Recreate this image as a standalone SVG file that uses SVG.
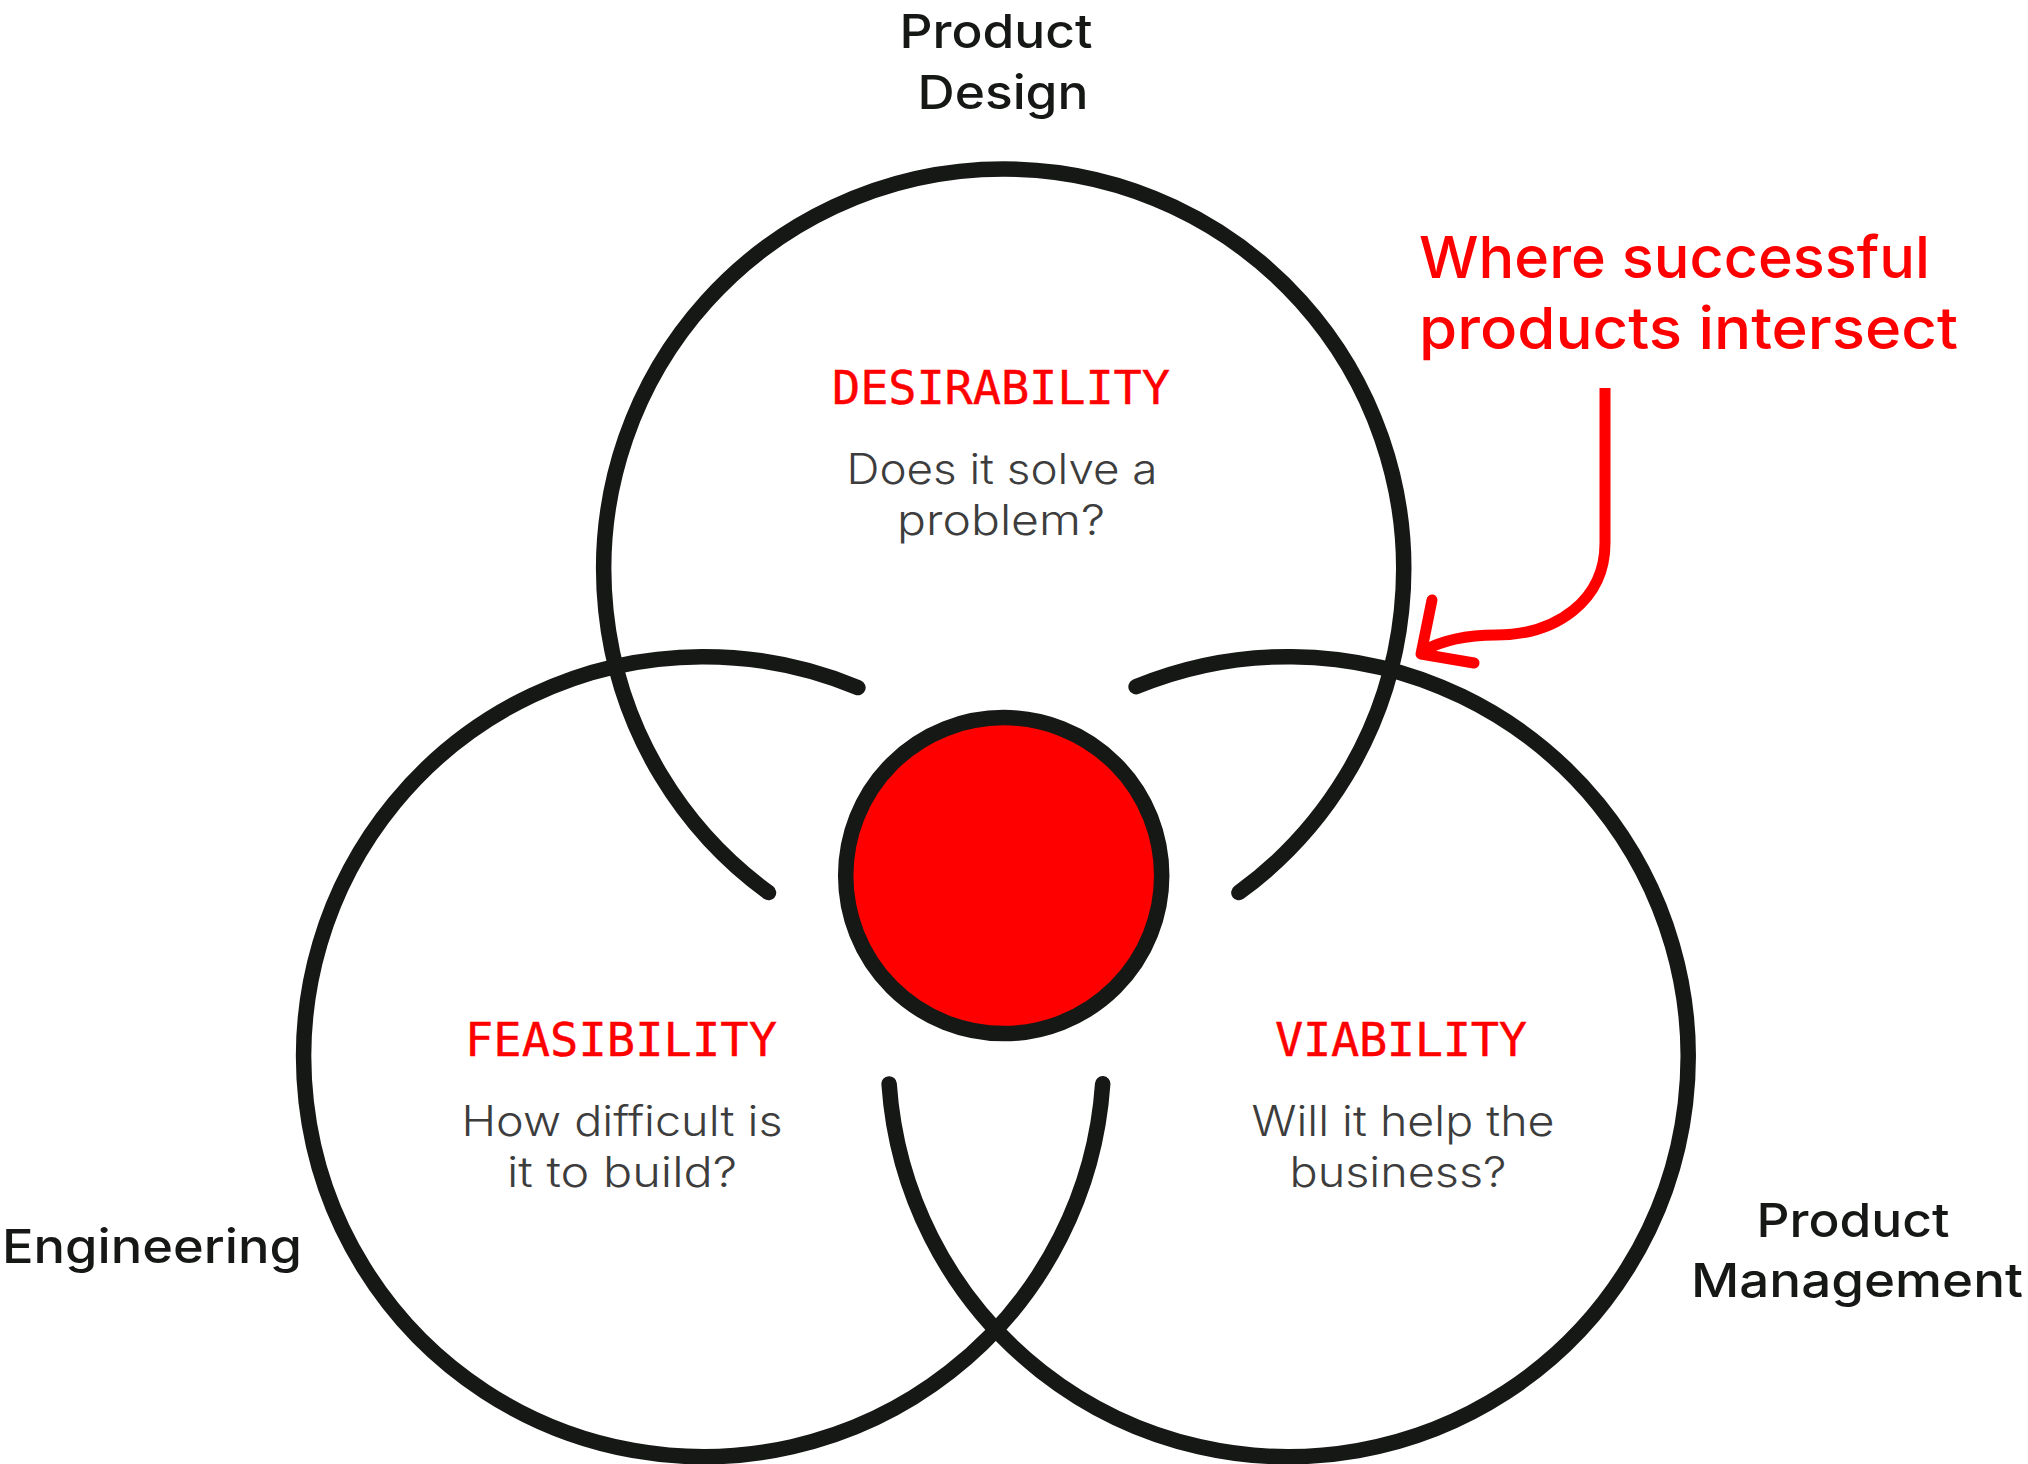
<svg xmlns="http://www.w3.org/2000/svg" width="2028" height="1464" viewBox="0 0 2028 1464">
  <style>
    .ring { fill: none; stroke: #161816; stroke-width: 15.5; stroke-linecap: round; }
    .group-label { font-family: Inter, "Liberation Sans", sans-serif; font-weight: 500; font-size: 47px; fill: #161816; text-anchor: middle; }
    .title { font-family: "DejaVu Sans Mono", "Liberation Mono", monospace; font-size: 47px; fill: #ff0000; stroke: #ff0000; stroke-width: 0.4; text-anchor: middle; }
    .question { font-family: Inter, "Liberation Sans", sans-serif; font-weight: 350; font-size: 42px; fill: #3d3d3d; text-anchor: middle; }
    .callout { font-family: Inter, "Liberation Sans", sans-serif; font-weight: 500; font-size: 58px; fill: #ff0000; }
    .arrow { fill: none; stroke: #ff0000; stroke-width: 11; }
  </style>
  <rect width="2028" height="1464" fill="#ffffff"/>

  <g id="desirability">
    <path class="ring" d="M768.5 892.6 A400 400 0 1 1 1238.9 892.6"/>
    <text class="group-label" x="996" y="48" textLength="193" lengthAdjust="spacingAndGlyphs">Product</text>
    <text class="group-label" x="1003" y="108.5" textLength="171" lengthAdjust="spacingAndGlyphs">Design</text>
    <text class="title" x="1001" y="403.5" textLength="338">DESIRABILITY</text>
    <text class="question" x="1002" y="483.5" textLength="311" lengthAdjust="spacingAndGlyphs">Does it solve a</text>
    <text class="question" x="1001" y="535" textLength="208" lengthAdjust="spacingAndGlyphs">problem?</text>
  </g>

  <g id="feasibility">
    <path class="ring" d="M857.9 687.6 A400 400 0 1 0 1102.7 1083.8"/>
    <text class="group-label" x="152" y="1263" textLength="300" lengthAdjust="spacingAndGlyphs">Engineering</text>
    <text class="title" x="621" y="1056" textLength="312">FEASIBILITY</text>
    <text class="question" x="622" y="1135.5" textLength="321" lengthAdjust="spacingAndGlyphs">How difficult is</text>
    <text class="question" x="622" y="1187" textLength="230" lengthAdjust="spacingAndGlyphs">it to build?</text>
  </g>

  <g id="viability">
    <path class="ring" d="M889.1 1083.9 A400 400 0 1 0 1136.1 686.7"/>
    <text class="group-label" x="1853" y="1236.5" textLength="193" lengthAdjust="spacingAndGlyphs">Product</text>
    <text class="group-label" x="1857" y="1297" textLength="332" lengthAdjust="spacingAndGlyphs">Management</text>
    <text class="title" x="1401" y="1055.5" textLength="252">VIABILITY</text>
    <text class="question" x="1403" y="1136" textLength="303" lengthAdjust="spacingAndGlyphs">Will it help the</text>
    <text class="question" x="1398" y="1187" textLength="217" lengthAdjust="spacingAndGlyphs">business?</text>
  </g>

  <g id="intersection">
    <circle cx="1003.7" cy="875.6" r="158" fill="#ff0000" stroke="#161816" stroke-width="15.5"/>
  </g>

  <g id="callout">
    <text class="callout" x="1419" y="278" textLength="511" lengthAdjust="spacingAndGlyphs">Where successful</text>
    <text class="callout" x="1419" y="349" textLength="539" lengthAdjust="spacingAndGlyphs">products intersect</text>
  </g>

  <g id="connectors">
    <path class="arrow" d="M1605 388 V543 C1605 600 1557 635 1496 635 C1464 635 1441 641 1423 651"/>
    <path class="arrow" stroke-linecap="round" stroke-linejoin="round" d="M1432 600 L1421 654 L1474 663"/>
  </g>
</svg>
